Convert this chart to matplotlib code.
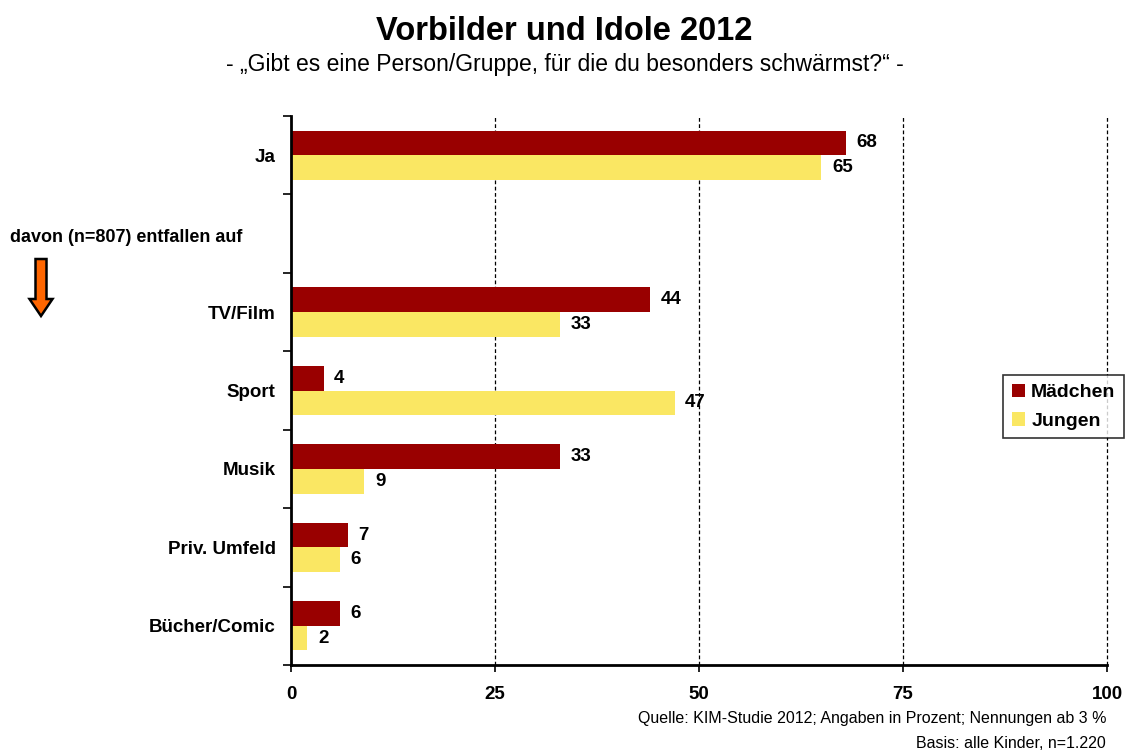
import matplotlib
matplotlib.use("Agg")
import matplotlib.pyplot as plt
import numpy as np
from matplotlib.patches import FancyArrow

plt.rcParams['font.family'] = ['Liberation Sans', 'DejaVu Sans']

categories = ["Ja", "davon (n=807) entfallen auf", "TV/Film", "Sport", "Musik", "Priv. Umfeld", "Bücher/Comic"]
maedchen = [68, None, 44, 4, 33, 7, 6]
jungen = [65, None, 33, 47, 9, 6, 2]
series_names = ["Mädchen", "Jungen"]
x_ticks = [0, 25, 50, 75, 100]

col_m = "#990000"
col_j = "#FAE763"
fs = 13.5

fig = plt.figure(figsize=(11.29, 7.51), dpi=100)
ax = fig.add_axes([291/1129, 1-665/751, (1107-291)/1129, (665-116)/751])

y = np.arange(len(categories))
h = 0.315
for i in range(len(categories)):
    if maedchen[i] is None:
        continue
    ax.barh(y[i] - h/2, maedchen[i], height=h, color=col_m, label=series_names[0] if i == 0 else None)
    ax.barh(y[i] + h/2, jungen[i], height=h, color=col_j, label=series_names[1] if i == 0 else None)
    ax.text(maedchen[i] + 1.3, y[i] - h/2, str(maedchen[i]), va='center', ha='left',
            fontsize=fs, fontweight='bold')
    ax.text(jungen[i] + 1.3, y[i] + h/2, str(jungen[i]), va='center', ha='left',
            fontsize=fs, fontweight='bold')

ax.set_xlim(0, 100)
ax.set_ylim(len(categories) - 0.5, -0.5)
ax.set_xticks(x_ticks)
ax.set_xticklabels([str(t) for t in x_ticks], fontsize=fs, fontweight='bold')
ax.tick_params(axis='x', length=5, width=1.2, pad=10, direction='out')

# category labels (the "davon" row is drawn separately further left)
ax.set_yticks([i for i in y if maedchen[i] is not None])
ax.set_yticklabels([categories[i] for i in y if maedchen[i] is not None], fontsize=fs, fontweight='bold')
ax.tick_params(axis='y', which='major', length=0, pad=11)
ax.set_yticks(np.arange(-0.5, len(categories) + 0.5, 1), minor=True)
ax.tick_params(axis='y', which='minor', length=6, width=1.2, direction='out')

for t in x_ticks[1:]:
    ax.axvline(t, color='black', linestyle=(0, (3, 2)), linewidth=0.9, zorder=0, clip_on=False)

for s in ['top', 'right']:
    ax.spines[s].set_visible(False)
ax.spines['left'].set_linewidth(2)
ax.spines['bottom'].set_linewidth(2)

fig.text(10/1129, 1-237/751, categories[1], fontsize=13, fontweight='bold', ha='left', va='center')
fig.patches.append(FancyArrow(41/1129, 1-259/751, 0, -(316-259)/751, width=11/1129,
                              head_width=23/1129, head_length=17/751, length_includes_head=True,
                              transform=fig.transFigure, facecolor='#FF6600', edgecolor='black',
                              linewidth=1.8))

leg = ax.legend(loc='upper left', bbox_to_anchor=((1003-291)/(1107-291), 1-(375-116)/(665-116)),
                frameon=True, fancybox=False, edgecolor='black',
                prop={'weight': 'bold', 'size': 14}, handlelength=0.7, handleheight=0.7,
                handletextpad=0.3, borderpad=0.45, labelspacing=0.55, borderaxespad=0)
leg.get_frame().set_linewidth(1.2)

fig.text(0.5, 1-32/751, "Vorbilder und Idole 2012", fontsize=23.5, fontweight='bold', ha='center', va='center')
fig.text(0.5, 1-65/751, "- \u201eGibt es eine Person/Gruppe, für die du besonders schwärmst?\u201c -",
         fontsize=16.5, ha='center', va='center')
fig.text(1106/1129, 1-719/751, "Quelle: KIM-Studie 2012; Angaben in Prozent; Nennungen ab 3 %",
         fontsize=11.5, ha='right', va='center')
fig.text(1106/1129, 1-744/751, "Basis: alle Kinder, n=1.220", fontsize=11.5, ha='right', va='center')

fig.savefig("out.png", dpi=100)
